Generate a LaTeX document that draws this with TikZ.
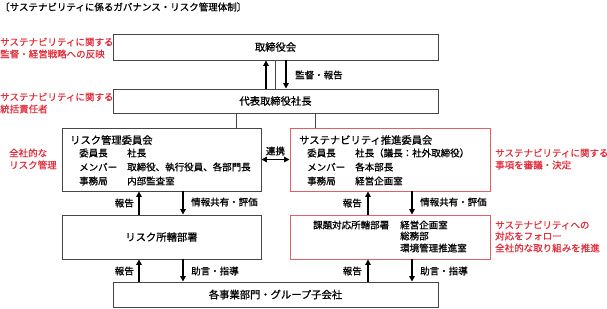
\documentclass[tikz,border=0pt]{standalone}
\usepackage{fontspec}
\setmainfont{Noto Sans CJK JP}[FakeBold=0.7]
\usetikzlibrary{arrows.meta}
\definecolor{redtxt}{RGB}{225,45,60}
\definecolor{redbox}{RGB}{225,95,105}
\definecolor{graybox}{RGB}{70,70,70}
\tikzset{
  box/.style={draw=graybox, line width=0.9pt, rectangle, inner sep=0pt, font=\fontsize{10.3}{12}\selectfont},
  rbox/.style={draw=redbox, line width=0.9pt, rectangle, inner sep=0pt},
  txt/.style={inner sep=0pt, anchor=west, font=\fontsize{9.5}{11}\selectfont},
  ttl/.style={inner sep=0pt, anchor=west, font=\fontsize{10.3}{12}\selectfont},
  rtxt/.style={txt, text=redtxt, align=left},
  arr/.style={line width=1.7pt, -{Triangle[length=5.5pt,width=5.5pt]}},
  darr/.style={line width=1.7pt, {Triangle[length=5.5pt,width=5.5pt]}-{Triangle[length=5.5pt,width=5.5pt]}},
  thinl/.style={draw=graybox, line width=0.7pt},
}
\begin{document}
\begin{tikzpicture}[x=1pt,y=-1pt]
\useasboundingbox (0,0) rectangle (607,308);
\node[txt] (title) at (0,7) {〔サステナビリティに係るガバナンス・リスク管理体制〕};

% main boxes
\node[box, minimum width=325pt, minimum height=26pt] (board) at (275.5,47) {取締役会};
\node[box, minimum width=325pt, minimum height=24pt] (pres) at (275.5,101) {代表取締役社長};
\node[box, minimum width=199pt, minimum height=63pt] (rc) at (161.5,159.5) {};
\node[rbox, minimum width=200pt, minimum height=63pt] (sc) at (390,159.5) {};
\node[box, minimum width=199pt, minimum height=44pt] (rd) at (161.5,237) {リスク所轄部署};
\node[rbox, minimum width=200pt, minimum height=44pt] (sd) at (390,237) {};
\node[box, minimum width=325pt, minimum height=25pt] (biz) at (275.5,294.5) {各事業部門・グループ子会社};

% left red notes
\node[rtxt] (n1) at (0,42) {サステナビリティに関する};
\node[rtxt] (n2) at (0,54) {監督・経営戦略への反映};
\node[rtxt] (n3) at (0,97) {サステナビリティに関する};
\node[rtxt] (n4) at (0,109) {統括責任者};
\node[rtxt] (n5) at (9,153) {全社的な};
\node[rtxt] (n6) at (9,165) {リスク管理};

% right red notes
\node[rtxt] (n7) at (495,153) {サステナビリティに関する};
\node[rtxt] (n8) at (495,165) {事項を審議・決定};
\node[rtxt] (n9) at (495,225) {サステナビリティへの};
\node[rtxt] (n10) at (495,236) {対応をフォロー};
\node[rtxt] (n11) at (495,248) {全社的な取り組みを推進};

% risk committee contents
\node[ttl] (rct) at (70,140) {リスク管理委員会};
\node[txt] (rc1a) at (79,153) {委員長};
\node[txt] (rc1b) at (127,153) {社長};
\node[txt] (rc2a) at (79,167) {メンバー};
\node[txt] (rc2b) at (127,167) {取締役、執行役員、各部門長};
\node[txt] (rc3a) at (79,181) {事務局};
\node[txt] (rc3b) at (127,181) {内部監査室};

% sustainability committee contents
\node[ttl] (sct) at (299,140) {サステナビリティ推進委員会};
\node[txt] (sc1a) at (307,153) {委員長};
\node[txt] (sc1b) at (355,153) {社長（議長：社外取締役）};
\node[txt] (sc2a) at (307,167) {メンバー};
\node[txt] (sc2b) at (355,167) {各本部長};
\node[txt] (sc3a) at (307,181) {事務局};
\node[txt] (sc3b) at (355,181) {経営企画室};

% sustainability dept contents
\node[txt] (sd1a) at (313,225) {課題対応所轄部署};
\node[txt] (sd1b) at (400,225) {経営企画室};
\node[txt] (sd2b) at (400,236) {総務部};
\node[txt] (sd3b) at (400,248) {環境管理推進室};

% board <-> president
\draw[thinl] (pres.north) -- (board.south);
\draw[arr] ([xshift=-9.5pt]pres.north) -- ([xshift=-9.5pt]board.south);
\draw[arr] ([xshift=10.5pt]board.south) -- ([xshift=10.5pt]pres.north);
\node[txt] (l1) at (295,75) {監督・報告};

% president to committees
\draw[thinl] ([xshift=-39.5pt]pres.south) -- ([xshift=74.5pt]rc.north);
\draw[thinl] ([xshift=39.5pt]pres.south) -- ([xshift=-75pt]sc.north);

% collaboration
\draw[darr] (rc.east) -- (sc.west);
\node[txt, anchor=center] (l2) at (275.5,151) {連携};

% risk committee <-> risk dept
\draw[arr] ([xshift=-22.5pt]rd.north) -- ([xshift=-22.5pt]rc.south);
\draw[arr] ([xshift=21.5pt]rc.south) -- ([xshift=21.5pt]rd.north);
\node[txt, anchor=east] (l3) at (134,203) {報告};
\node[txt] (l4) at (191,202) {情報共有・評価};

% risk dept <-> business
\draw[arr] ([xshift=-22.5pt]biz.north -| rd.north) -- ([xshift=-22.5pt]rd.south);
\draw[arr] ([xshift=21.5pt]rd.south) -- ([xshift=21.5pt]biz.north -| rd.north);
\node[txt, anchor=east] (l5) at (134,271) {報告};
\node[txt] (l6) at (191,271) {助言・指導};

% sustainability committee <-> dept
\draw[arr] ([xshift=-22pt]sd.north) -- ([xshift=-22pt]sc.south);
\draw[arr] ([xshift=22pt]sc.south) -- ([xshift=22pt]sd.north);
\node[txt, anchor=east] (l7) at (362,203) {報告};
\node[txt] (l8) at (420,202) {情報共有・評価};

% sustainability dept <-> business
\draw[arr] ([xshift=-22pt]biz.north -| sd.north) -- ([xshift=-22pt]sd.south);
\draw[arr] ([xshift=22pt]sd.south) -- ([xshift=22pt]biz.north -| sd.north);
\node[txt, anchor=east] (l9) at (362,271) {報告};
\node[txt] (l10) at (420,271) {助言・指導};
\end{tikzpicture}
\end{document}
